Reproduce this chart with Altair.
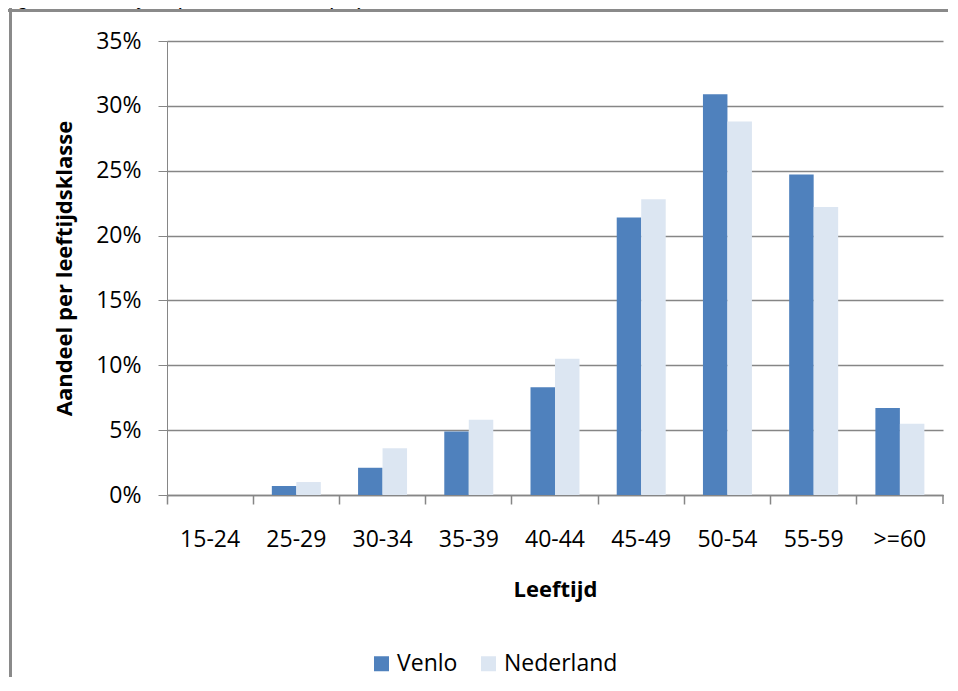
import altair as alt
import pandas as pd

# ---- data ----
categories = ["15-24", "25-29", "30-34", "35-39", "40-44", "45-49", "50-54", "55-59", ">=60"]
venlo = [0.0, 0.7, 2.1, 4.9, 8.3, 21.4, 30.9, 24.7, 6.7]        # percent
nederland = [0.0, 1.0, 3.6, 5.8, 10.5, 22.8, 28.8, 22.2, 5.5]   # percent
series = ["Venlo", "Nederland"]
colors = ["#4F81BD", "#DCE6F2"]
y_ticks = [0, 0.05, 0.10, 0.15, 0.20, 0.25, 0.30, 0.35]
page_title = "Figuur 7: leeftijdsopbouw directie (fte)"

rows = []
for c, v, n in zip(categories, venlo, nederland):
    rows.append({"Leeftijd": c, "Reeks": "Venlo", "Aandeel": v / 100})
    rows.append({"Leeftijd": c, "Reeks": "Nederland", "Aandeel": n / 100})
df = pd.DataFrame(rows)

W, H = 776, 454
PAD_L, PAD_T, PAD_R, PAD_B = 159, 33, 5, 182
GRID = "#868686"
FRAME = "#8A8A8A"
FONT = "Open Sans"

bars = alt.Chart(df).mark_bar().encode(
    x=alt.X(
        "Leeftijd:N",
        sort=categories,
        scale=alt.Scale(paddingInner=0, paddingOuter=0),
        axis=alt.Axis(
            bandPosition=0,
            labelAngle=0,
            labelPadding=24,
            labelFontSize=23,
            labelFont=FONT,
            labelColor="#000000",
            tickSize=9,
            tickColor=GRID,
            tickWidth=1.5,
            domainColor=GRID,
            domainWidth=1.5,
            title="Leeftijd",
            titleFont=FONT,
            titleFontSize=22,
            titleFontWeight="bold",
            titleColor="#000000",
            titleX=W / 2,
            titleY=101,
            titleAlign="center",
            titleBaseline="alphabetic",
        ),
    ),
    xOffset=alt.XOffset(
        "Reeks:N", sort=series, scale=alt.Scale(paddingInner=0, paddingOuter=0.76)
    ),
    y=alt.Y(
        "Aandeel:Q",
        scale=alt.Scale(domain=[0, 0.35], nice=False, zero=True),
        axis=alt.Axis(
            values=y_ticks,
            format=".0%",
            grid=True,
            gridColor=GRID,
            gridWidth=1.5,
            domainColor=GRID,
            domainWidth=1,
            tickColor=GRID,
            tickWidth=1,
            tickSize=9,
            labelPadding=17,
            labelFontSize=23,
            labelFont=FONT,
            labelColor="#000000",
            title="Aandeel per leeftijdsklasse",
            titleFont=FONT,
            titleFontSize=22,
            titleFontWeight="bold",
            titleColor="#000000",
            titleAngle=270,
            titleX=-103,
            titleY=H / 2,
            titleAlign="center",
            titleBaseline="middle",
        ),
    ),
    color=alt.Color(
        "Reeks:N",
        sort=series,
        scale=alt.Scale(domain=series, range=colors),
        legend=alt.Legend(
            orient="none",
            legendX=203,
            legendY=611,
            direction="horizontal",
            title=None,
            symbolType="square",
            symbolSize=225,
            symbolStrokeWidth=0,
            labelFontSize=23,
            labelFont=FONT,
            labelColor="#000000",
            labelOffset=4,
            columnPadding=19,
        ),
    ),
)

one = alt.Data(values=[{"k": 1}])

last_tick = alt.Chart(one).mark_rule(color=GRID, strokeWidth=1.5).encode(
    x=alt.value(W), y=alt.value(H), y2=alt.value(H + 9)
)

frame_left = alt.Chart(one).mark_rule(color=FRAME, strokeWidth=3).encode(
    x=alt.value(2.5 - PAD_L), y=alt.value(-PAD_T), y2=alt.value(H + PAD_B + 20)
)
frame_top = alt.Chart(one).mark_rule(color=FRAME, strokeWidth=3).encode(
    x=alt.value(-PAD_L), x2=alt.value(W + PAD_R + 20), y=alt.value(2.5 - PAD_T),
    y2=alt.value(2.5 - PAD_T)
)

title_text = alt.Chart(one).mark_text(
    text=page_title,
    font="Liberation Sans",
    fontStyle="italic",
    fontSize=22,
    align="left",
    baseline="alphabetic",
    color="#000000",
).encode(x=alt.value(-8 - PAD_L), y=alt.value(-4 - PAD_T))

chart = (
    alt.layer(bars, last_tick, frame_left, frame_top, title_text)
    .properties(
        width=W,
        height=H,
        padding={"left": PAD_L, "top": PAD_T, "right": PAD_R, "bottom": PAD_B},
        autosize=alt.AutoSizeParams(type="none"),
        background="#FFFFFF",
    )
    .configure_view(strokeWidth=0)
)

chart.save("out.html", embed_options={"renderer": "svg", "actions": False})
